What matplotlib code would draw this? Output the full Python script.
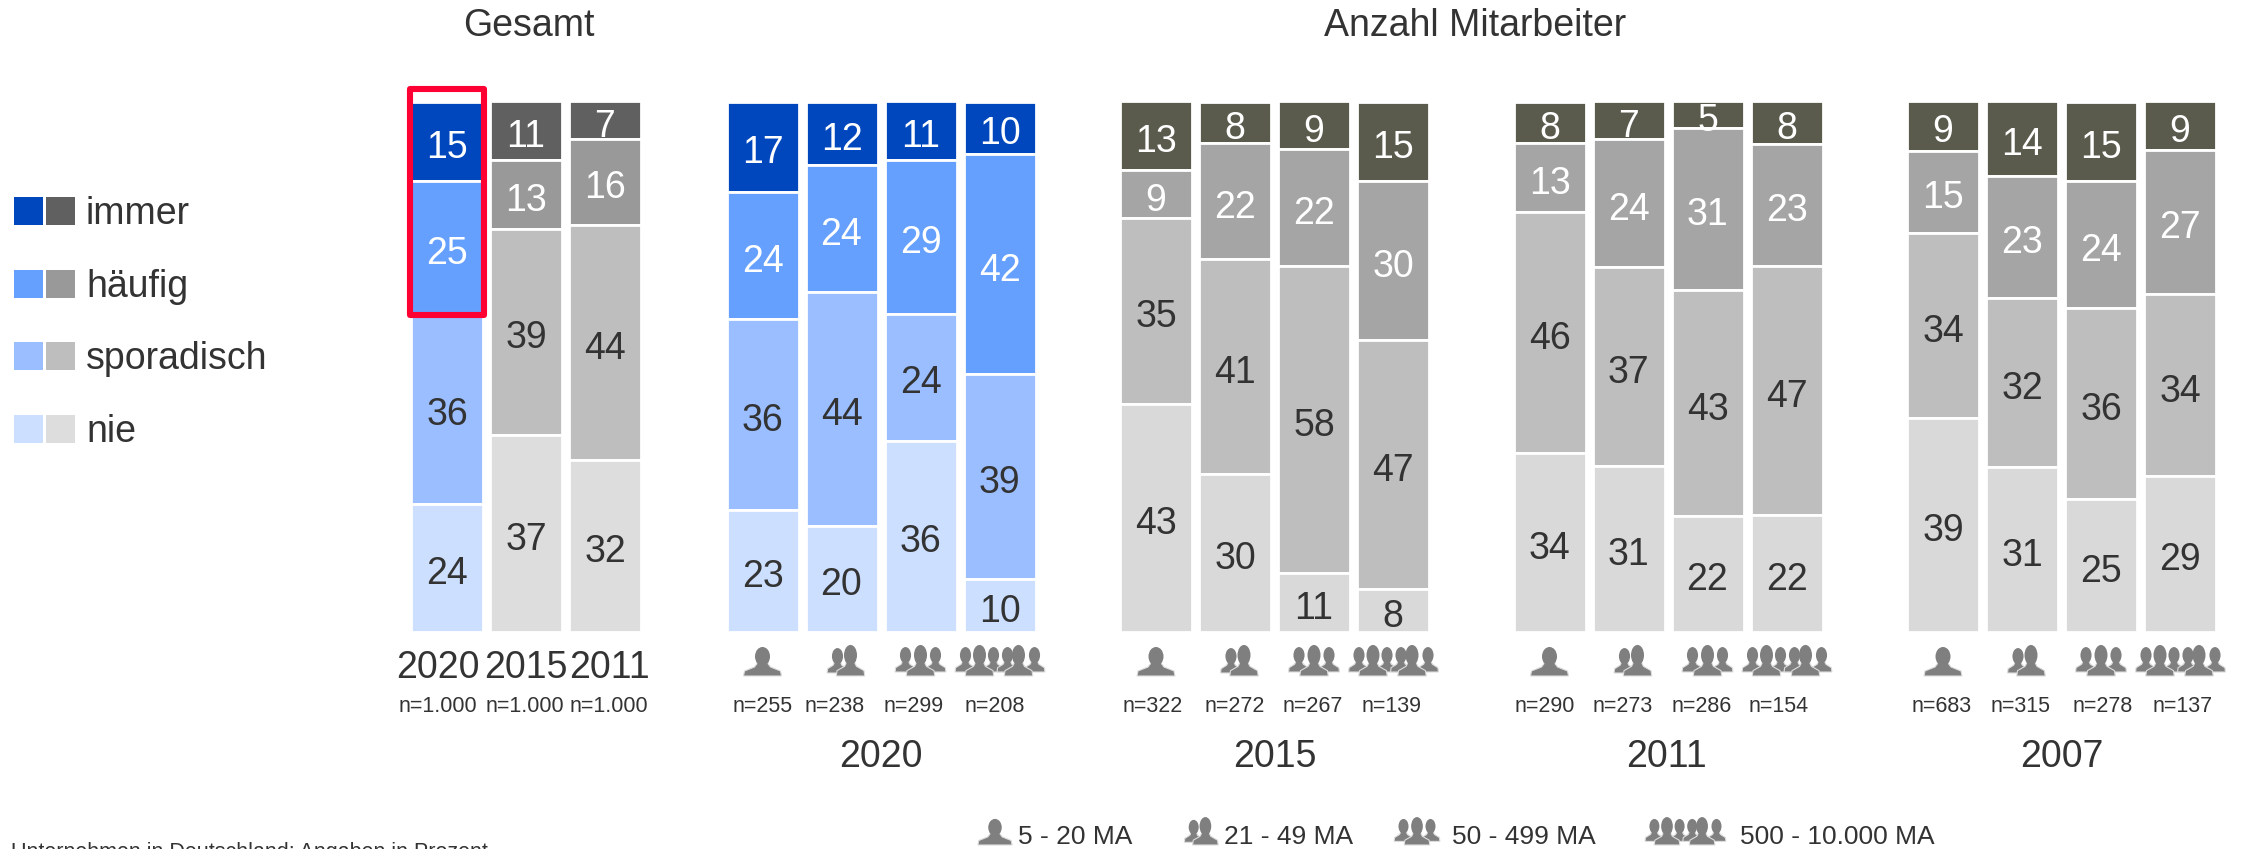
import matplotlib
matplotlib.use('Agg')
import matplotlib.pyplot as plt
from matplotlib.patches import Ellipse, Polygon, Rectangle

plt.rcParams['font.family'] = ['Liberation Sans', 'DejaVu Sans']

W, H = 2244, 849

# data, top segment first: immer, haeufig, sporadisch, nie
stufen = ['immer', 'häufig', 'sporadisch', 'nie']

gesamt_jahre = ['2020', '2015', '2011']
gesamt_n = ['n=1.000', 'n=1.000', 'n=1.000']
gesamt_immer = [15, 11, 7]
gesamt_haeufig = [25, 13, 16]
gesamt_sporadisch = [36, 39, 44]
gesamt_nie = [24, 37, 32]

n_2020 = ['n=255', 'n=238', 'n=299', 'n=208']
immer_2020 = [17, 12, 11, 10]
haeufig_2020 = [24, 24, 29, 42]
sporadisch_2020 = [36, 44, 24, 39]
nie_2020 = [23, 20, 36, 10]

n_2015 = ['n=322', 'n=272', 'n=267', 'n=139']
immer_2015 = [13, 8, 9, 15]
haeufig_2015 = [9, 22, 22, 30]
sporadisch_2015 = [35, 41, 58, 47]
nie_2015 = [43, 30, 11, 8]

n_2011 = ['n=290', 'n=273', 'n=286', 'n=154']
immer_2011 = [8, 7, 5, 8]
haeufig_2011 = [13, 24, 31, 23]
sporadisch_2011 = [46, 37, 43, 47]
nie_2011 = [34, 31, 22, 22]

n_2007 = ['n=683', 'n=315', 'n=278', 'n=137']
immer_2007 = [9, 14, 15, 9]
haeufig_2007 = [15, 23, 24, 27]
sporadisch_2007 = [34, 32, 36, 34]
nie_2007 = [39, 31, 25, 29]

ma_labels = ['5 - 20 MA', '21 - 49 MA', '50 - 499 MA', '500 - 10.000 MA']

# farben
blau = ['#0047BE', '#66A0FF', '#9ABEFF', '#CCDFFF']
grau = ['#606060', '#999999', '#BEBEBE', '#DDDDDD']
oliv = ['#5A5B4C', '#A5A5A5', '#BEBEBE', '#D9D9D9']
text_dunkel = '#333333'
icon_farbe = '#7F7F7F'

TOP, BOTTOM = 101.5, 631.5
PITCH = 79
FS = 27
DY = 3  # va='center' sits a little high

fig = plt.figure(figsize=(W / 100, H / 100), dpi=100)


def pixel_axes(x0, x1, y0, y1):
    return fig.add_axes([x0 / W, 1 - y1 / H, (x1 - x0) / W, (y1 - y0) / H])


def stapel(x_start, serien, farben_spalten):
    """one axes per group, bars normalised to 100 like the original"""
    n = len(serien[0])
    ax = pixel_axes(x_start - PITCH / 2, x_start + (n - 0.5) * PITCH, TOP, BOTTOM)
    ax.set_xlim(-0.5, n - 0.5)
    ax.set_ylim(0, 100)
    ax.axis('off')
    for i in range(n):
        vals = [s[i] for s in serien]
        total = sum(vals)
        oben = 100
        for j, v in enumerate(vals):
            h = v / total * 100
            ax.bar(i, h, bottom=oben - h, width=72 / PITCH,
                   color=farben_spalten[i][j], edgecolor='white', linewidth=2.0)
            farbe = 'white' if j < 2 else text_dunkel
            ax.text(i, oben - h / 2 - 1.2, str(v), ha='center', va='center', fontsize=FS,
                    color=farbe, clip_on=True)
            oben -= h
    return ax


# bar centres of the first column in each group
stapel(447, [gesamt_immer, gesamt_haeufig, gesamt_sporadisch, gesamt_nie], [blau, grau, grau])
stapel(762.5, [immer_2020, haeufig_2020, sporadisch_2020, nie_2020], [blau] * 4)
stapel(1156, [immer_2015, haeufig_2015, sporadisch_2015, nie_2015], [oliv] * 4)
stapel(1549.5, [immer_2011, haeufig_2011, sporadisch_2011, nie_2011], [oliv] * 4)
stapel(1943, [immer_2007, haeufig_2007, sporadisch_2007, nie_2007], [oliv] * 4)

# overlay in pixel coords for text, legend, icons
ov = fig.add_axes([0, 0, 1, 1])
ov.set_xlim(0, W)
ov.set_ylim(H, 0)
ov.axis('off')
ov.patch.set_alpha(0)


def person(cx, unten, sx, sy, zoom=1.0):
    kopf = 15 * sx ** 0.5 * zoom
    sx *= zoom
    sy *= zoom
    schulter = [(-19, 0), (-18, -5), (-8, -9), (-5, -13), (5, -13), (8, -9), (18, -5), (19, 0)]
    pts = [(cx + a * sx, unten + b * sy) for a, b in schulter]
    ov.add_patch(Polygon(pts, closed=True, fc=icon_farbe, ec='#DDDDDD', lw=0.8))
    ov.add_patch(Ellipse((cx, unten - 19.5 * sy), kopf, 19 * sy, fc=icon_farbe, ec='none'))


def icon(art, cx, unten, zoom=1.0):
    # unten = baseline of the front figures
    if art == 0:
        person(cx, unten, 1, 1, zoom)
    elif art == 1:
        person(cx - 7 * zoom, unten - 3 * zoom, 0.55, 0.86, zoom)
        person(cx + 6 * zoom, unten, 0.75, 1.07, zoom)
    elif art == 2:
        person(cx - 15 * zoom, unten - 4 * zoom, 0.55, 0.86, zoom)
        person(cx + 15 * zoom, unten - 4 * zoom, 0.55, 0.86, zoom)
        person(cx, unten, 0.75, 1.07, zoom)
    else:
        for d in [-34, -6, 8, 35]:
            person(cx + d * zoom, unten - 4 * zoom, 0.55, 0.86, zoom)
        person(cx - 20 * zoom, unten, 0.75, 1.07, zoom)
        person(cx + 19 * zoom, unten, 0.75, 1.07, zoom)


# titel
ov.text(529, 23 + DY, 'Gesamt', ha='center', va='center', fontsize=FS, color=text_dunkel)
ov.text(1475, 23 + DY, 'Anzahl Mitarbeiter', ha='center', va='center', fontsize=FS, color=text_dunkel)

# legende links
for i, s in enumerate(stufen):
    y = 197 + i * 72.7
    ov.add_patch(Rectangle((14, y), 29, 28, fc=blau[i], ec='none'))
    ov.add_patch(Rectangle((46, y), 29, 28, fc=grau[i], ec='none'))
    ov.text(86, y + 14 + DY, s, ha='left', va='center', fontsize=FS, color=text_dunkel)

# gesamt labels
for x, j in zip([438, 526, 610], gesamt_jahre):
    ov.text(x, 665 + DY, j, ha='center', va='center', fontsize=FS, color=text_dunkel)
for x, n in zip([438, 525, 608.5], gesamt_n):
    ov.text(x, 703 + DY, n, ha='center', va='center', fontsize=15.5, color=text_dunkel)

# kleine gruppen: icon, n, jahr
gruppen = [
    (762.5, n_2020, [0, -7, -7, -4.5], '2020', 881),
    (1156, n_2015, [-3, 0, -1, -1], '2015', 1275),
    (1549.5, n_2011, [-4.5, -6, -6, -7.5], '2011', 1667),
    (1943, n_2007, [-1, -1, 2, 3], '2007', 2062),
]
for x0, ns, versatz, jahr, x_jahr in gruppen:
    for i, n in enumerate(ns):
        xc = x0 + i * PITCH
        icon(i, xc + [0, 3, 0, 0][i], 676)
        ov.text(xc + versatz[i], 703 + DY, n, ha='center', va='center', fontsize=15.5, color=text_dunkel)
    ov.text(x_jahr, 754 + DY, jahr, ha='center', va='center', fontsize=FS, color=text_dunkel)

# markierung
ov.add_patch(Rectangle((410, 89), 74, 226, fc='none', ec='#FF0033', lw=4.4, joinstyle='round'))

# legende unten
for i, (cx, tx, lab) in enumerate(zip([995, 1200, 1417, 1685], [1018, 1224, 1452, 1740], ma_labels)):
    icon(i, cx, 845, 0.9)
    ov.text(tx, 835 + 1.5, lab, ha='left', va='center', fontsize=19, color=text_dunkel)

# fussnote, unten angeschnitten wie im original
ov.text(488, 858, 'Unternehmen in Deutschland; Angaben in Prozent', ha='right', va='baseline',
        fontsize=15.5, color=text_dunkel, clip_on=True)

fig.savefig('out.png', dpi=100)
